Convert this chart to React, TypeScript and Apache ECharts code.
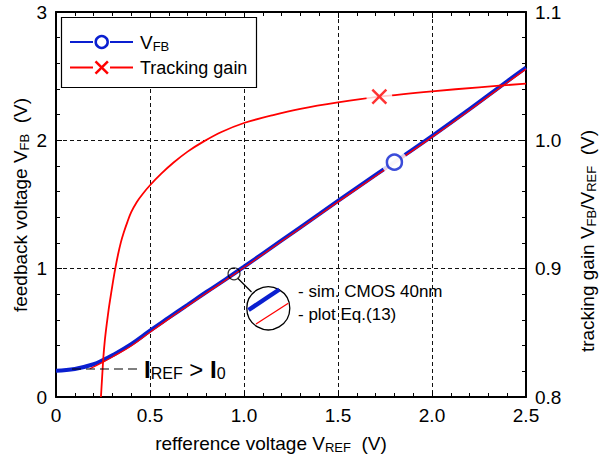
import React, { useEffect, useRef } from "react";
import * as echarts from "echarts";

// ---- data ----
const VREF = [0, 0.1, 0.2, 0.25, 0.3, 0.4, 0.5, 0.6, 0.7, 0.8, 0.9, 1.0, 1.2, 1.4, 1.6, 1.8, 2.0, 2.2, 2.4, 2.5];
const VFB_SIM = [0.205, 0.218, 0.255, 0.287, 0.325, 0.412, 0.517, 0.618, 0.718, 0.818, 0.915, 1.015, 1.22, 1.425, 1.63, 1.83, 2.033, 2.243, 2.46, 2.566];

const EQ13_X = [0.18, 0.25, 0.3, 0.4, 0.5, 0.6, 0.7, 0.8, 0.9, 1.0, 1.2, 1.4, 1.6, 1.8, 2.0, 2.2, 2.4, 2.5];
const EQ13_Y = [0.22, 0.272, 0.312, 0.398, 0.505, 0.609, 0.71, 0.81, 0.908, 1.009, 1.213, 1.418, 1.622, 1.822, 2.025, 2.235, 2.45, 2.555];

const GAIN_X = [0.239, 0.245, 0.252, 0.26, 0.27, 0.28, 0.287, 0.3, 0.314, 0.33, 0.345, 0.36, 0.38, 0.4, 0.43, 0.46, 0.5, 0.56, 0.624, 0.7, 0.784, 0.88, 1.0, 1.15, 1.3, 1.5, 1.72, 2.0, 2.25, 2.5];
const GAIN_Y = [0.8, 0.8145, 0.831, 0.8445, 0.857, 0.868, 0.875, 0.887, 0.899, 0.911, 0.9205, 0.928, 0.9365, 0.944, 0.952, 0.958, 0.965, 0.974, 0.9825, 0.9912, 0.999, 1.0065, 1.0135, 1.0195, 1.0245, 1.0295, 1.034, 1.0382, 1.0413, 1.0442];

const VFB_MARKER = [1.8, 1.83];
const GAIN_MARKER = [1.72, 1.034];
const CALLOUT_POINT = [0.947, 0.96];

const X_TICKS = ["0", "0.5", "1.0", "1.5", "2.0", "2.5"];
const Y_LEFT_TICKS = ["0", "1", "2", "3"];
const Y_RIGHT_TICKS = ["0.8", "0.9", "1.0", "1.1"];

const FONT = "Liberation Sans, Arial, sans-serif";
const BLUE = "#0a1fd0";
const RED = "#ff0000";

const zip = (xs: number[], ys: number[]) => xs.map((x, i) => [x, ys[i]]);

export default function App() {
  const ref = useRef<HTMLDivElement>(null);
  useEffect(() => {
    if (!ref.current) return;
    const chart = echarts.init(ref.current, undefined, { renderer: "svg" });
    const sub = { fontSize: 13, verticalAlign: "bottom", lineHeight: 16, fontFamily: FONT, color: "#000" };
    const axisLine = { show: true, onZero: false, lineStyle: { color: "#000", width: 2 } };
    const tick = { show: true, inside: true, length: 6, lineStyle: { color: "#000", width: 1 } };
    const minor = { show: true, splitNumber: 5, length: 4, lineStyle: { color: "#000", width: 1 } };
    const dashed = { show: true, lineStyle: { color: "#111", width: 1, type: [4, 3] as any } };
    const lbl = { color: "#000", fontSize: 19, fontFamily: FONT };

    const option: any = {
      animation: false,
      backgroundColor: "#fff",
      grid: { left: 56, right: 75, top: 12, bottom: 62 },
      xAxis: [
        {
          type: "value", min: 0, max: 2.5, interval: 0.5, position: "bottom",
          axisLine, axisTick: tick, minorTick: minor, splitLine: dashed,
          axisLabel: { ...lbl, margin: 9, showMinLabel: true, showMaxLabel: true,
            formatter: (v: number) => X_TICKS[Math.round(v / 0.5)] },
        },
        {
          type: "value", min: 0, max: 2.5, interval: 0.5, position: "top",
          axisLine, axisTick: tick, minorTick: minor, splitLine: { show: false },
          axisLabel: { show: false },
        },
      ],
      yAxis: [
        {
          type: "value", min: 0, max: 3, interval: 1, position: "left",
          axisLine, axisTick: tick, minorTick: minor, splitLine: dashed,
          axisLabel: { ...lbl, margin: 9, showMinLabel: true, showMaxLabel: true,
            formatter: (v: number) => Y_LEFT_TICKS[Math.round(v)] },
        },
        {
          type: "value", min: 0.8, max: 1.1, interval: 0.1, position: "right",
          axisLine, axisTick: tick, minorTick: minor, splitLine: { show: false },
          axisLabel: { ...lbl, margin: 9, showMinLabel: true, showMaxLabel: true,
            formatter: (v: number) => Y_RIGHT_TICKS[Math.round((v - 0.8) / 0.1)] },
        },
      ],
      series: [
        {
          name: "VFB sim", type: "line", data: zip(VREF, VFB_SIM), smooth: 0.4,
          showSymbol: false, lineStyle: { color: BLUE, width: 4 }, z: 2,
        },
        {
          name: "Eq13", type: "line", data: zip(EQ13_X, EQ13_Y), smooth: 0.4,
          showSymbol: false, lineStyle: { color: RED, width: 1.3 }, z: 3,
        },
        {
          name: "Tracking gain", type: "line", yAxisIndex: 1, data: zip(GAIN_X, GAIN_Y), smooth: 0.3,
          showSymbol: false, lineStyle: { color: RED, width: 1.8 }, z: 3,
        },
        {
          name: "halo", type: "scatter", data: [VFB_MARKER], symbol: "circle", symbolSize: 26,
          itemStyle: { color: "#fff" }, z: 4, silent: true,
        },
        {
          name: "halo2", type: "scatter", yAxisIndex: 1, data: [GAIN_MARKER], symbol: "circle", symbolSize: 26,
          itemStyle: { color: "#fff" }, z: 4, silent: true,
        },
        {
          name: "VFB marker", type: "scatter", data: [VFB_MARKER], symbol: "circle", symbolSize: 15,
          itemStyle: { color: "#fff", borderColor: BLUE, borderWidth: 2.5 }, z: 5,
        },
        {
          name: "Gain marker", type: "scatter", yAxisIndex: 1, data: [GAIN_MARKER],
          symbol: "path://M0,0L10,10M10,0L0,10", symbolSize: 14,
          itemStyle: { color: "none", borderColor: RED, borderWidth: 2.5 }, z: 5,
        },
        {
          name: "callout", type: "scatter", data: [CALLOUT_POINT], symbol: "circle", symbolSize: 12,
          itemStyle: { color: "rgba(255,255,255,0)", borderColor: "#000", borderWidth: 1.2 }, z: 5,
        },
      ],
      graphic: [
        // legend box
        { type: "rect", z: 100, shape: { x: 61.5, y: 17.5, width: 195, height: 70 },
          style: { fill: "#fff", stroke: "#000", lineWidth: 1.2 } },
        { type: "line", z: 101, shape: { x1: 70, y1: 42, x2: 93, y2: 42 }, style: { stroke: BLUE, lineWidth: 2 } },
        { type: "line", z: 101, shape: { x1: 110, y1: 42, x2: 133, y2: 42 }, style: { stroke: BLUE, lineWidth: 2 } },
        { type: "circle", z: 101, shape: { cx: 101.7, cy: 42, r: 6 }, style: { fill: "#fff", stroke: BLUE, lineWidth: 2.5 } },
        { type: "text", z: 101, x: 140, y: 42,
          style: { text: "V{sub|FB}", fontSize: 19, fontFamily: FONT, fill: "#000", verticalAlign: "middle",
            lineHeight: 22, rich: { sub: { ...sub, fontSize: 13 } } } },
        { type: "line", z: 101, shape: { x1: 70, y1: 67.5, x2: 93, y2: 67.5 }, style: { stroke: RED, lineWidth: 2 } },
        { type: "line", z: 101, shape: { x1: 110, y1: 67.5, x2: 133, y2: 67.5 }, style: { stroke: RED, lineWidth: 2 } },
        { type: "line", z: 101, shape: { x1: 95.5, y1: 61.3, x2: 107.9, y2: 73.7 }, style: { stroke: RED, lineWidth: 2.5 } },
        { type: "line", z: 101, shape: { x1: 107.9, y1: 61.3, x2: 95.5, y2: 73.7 }, style: { stroke: RED, lineWidth: 2.5 } },
        { type: "text", z: 101, x: 140, y: 67.5,
          style: { text: "Tracking gain", fontSize: 18, fontFamily: FONT, fill: "#000", verticalAlign: "middle" } },
        // callout
        { type: "line", z: 101, shape: { x1: 238, y1: 278.5, x2: 251.5, y2: 292 }, style: { stroke: "#000", lineWidth: 1.2 } },
        { type: "circle", z: 101, shape: { cx: 268.3, cy: 308.3, r: 21.5 }, style: { fill: "#fff", stroke: "#000", lineWidth: 1.3 } },
        { type: "line", z: 102, shape: { x1: 248.5, y1: 310, x2: 279.3, y2: 289.5 }, style: { stroke: BLUE, lineWidth: 4.5 } },
        { type: "line", z: 102, shape: { x1: 256, y1: 324, x2: 288.3, y2: 303.3 }, style: { stroke: RED, lineWidth: 1.3 } },
        { type: "text", z: 101, x: 298, y: 291.5,
          style: { text: "- sim. CMOS 40nm", fontSize: 17, fontFamily: FONT, fill: "#000", verticalAlign: "middle" } },
        { type: "text", z: 101, x: 298, y: 314.5,
          style: { text: "- plot Eq.(13)", fontSize: 17, fontFamily: FONT, fill: "#000", verticalAlign: "middle" } },
        // I_REF > I_0 annotation
        { type: "line", z: 101, shape: { x1: 72, y1: 369, x2: 137, y2: 369 },
          style: { stroke: "#000", lineWidth: 1.2, lineDash: [9, 5] } },
        { type: "text", z: 101, x: 144, y: 368,
          style: { text: "{b|I}{s|REF}{n| > }{b|I}{s|0}", verticalAlign: "middle", fill: "#000",
            rich: {
              b: { fontSize: 24, fontWeight: "bold", fontFamily: FONT, lineHeight: 26, verticalAlign: "bottom" },
              n: { fontSize: 24, fontFamily: FONT, lineHeight: 26, verticalAlign: "bottom" },
              s: { fontSize: 16, fontFamily: FONT, lineHeight: 17, verticalAlign: "bottom" },
            } } },
        // axis titles
        { type: "text", z: 101, x: 271, y: 443,
          style: { text: "refference voltage V{sub|REF}  (V)", fontSize: 19, fontFamily: FONT, fill: "#000",
            align: "center", verticalAlign: "middle", lineHeight: 22, rich: { sub } } },
        { type: "text", z: 101, x: 20, y: 205, rotation: Math.PI / 2,
          style: { text: "feedback voltage V{sub|FB}  (V)", fontSize: 19, fontFamily: FONT, fill: "#000",
            align: "center", verticalAlign: "middle", lineHeight: 22, rich: { sub } } },
        { type: "text", z: 101, x: 587, y: 241, rotation: Math.PI / 2,
          style: { text: "tracking gain V{sub|FB}/V{sub|REF}  (V)", fontSize: 19, fontFamily: FONT, fill: "#000",
            align: "center", verticalAlign: "middle", lineHeight: 22, rich: { sub } } },
      ],
    };
    chart.setOption(option);
    return () => chart.dispose();
  }, []);
  return <div ref={ref} style={{ position: "absolute", left: 0, top: 0, width: 601, height: 459 }} />;
}
